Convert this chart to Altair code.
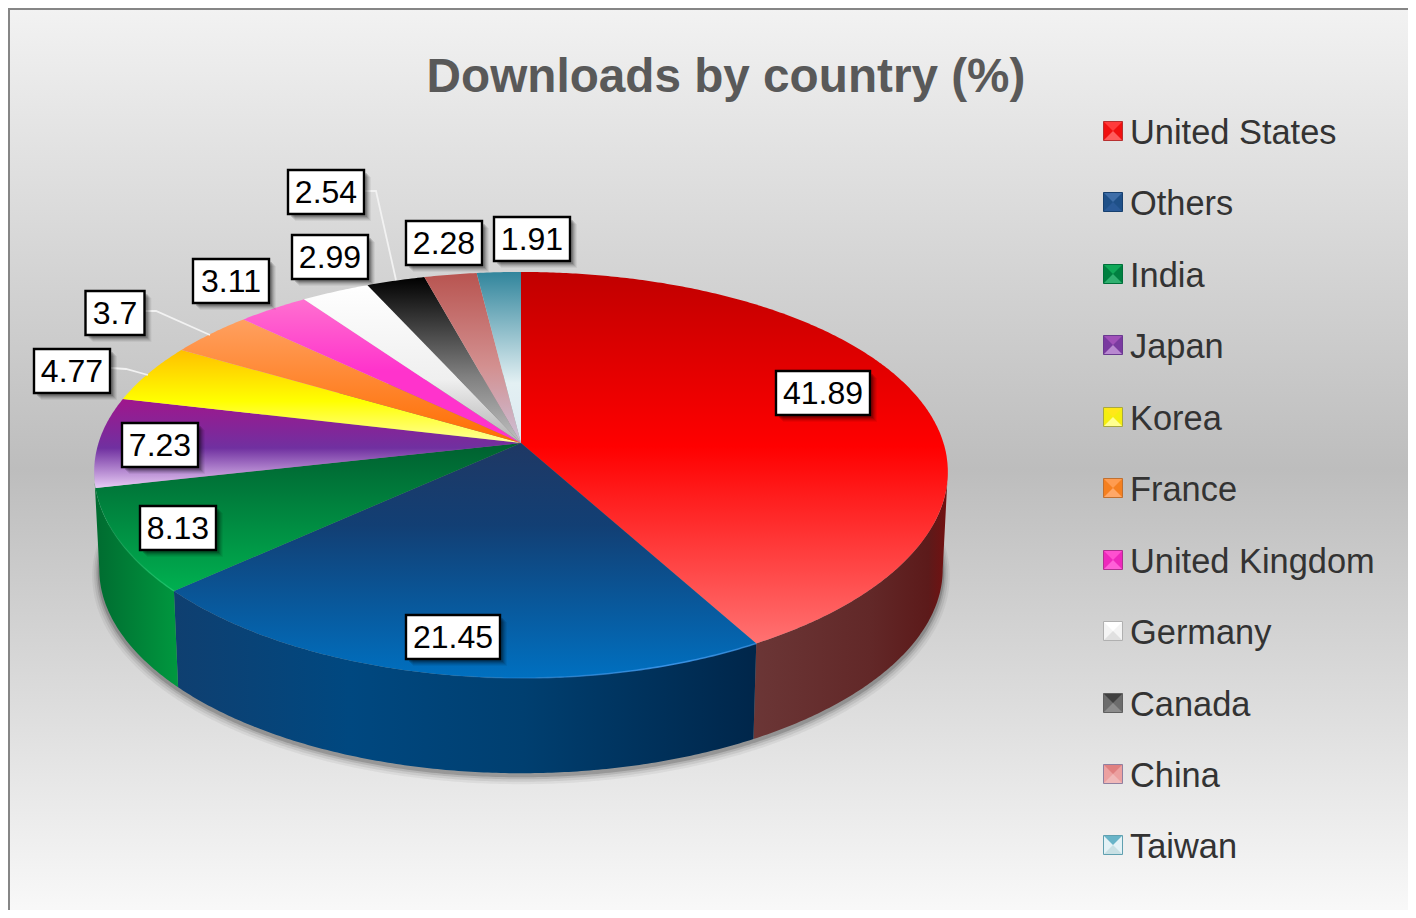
import math
import altair as alt
import pandas as pd

# ---- values --------------------------------------------------------------
countries = ["United States", "Others", "India", "Japan", "Korea", "France",
             "United Kingdom", "Germany", "Canada", "China", "Taiwan"]
shares = [41.89, 21.45, 8.13, 7.23, 4.77, 3.7, 3.11, 2.99, 2.54, 2.28, 1.91]

# ---- styles ---------------------------------------------------------------
face_stops = [
    [("#c00000", 0), ("#ff0000", .47), ("#ff7272", 1)],
    [("#1f3864", 0), ("#123f74", .35), ("#0070c0", 1)],
    [("#006030", 0), ("#00b050", 1)],
    [("#a0168c", 0), ("#7030a0", .55), ("#e8ccf5", 1)],
    [("#ffc000", 0), ("#ffff00", .55), ("#ffff9c", 1)],
    [("#ffa060", 0), ("#ff6d00", 1)],
    [("#ff70d0", 0), ("#ff33cc", .5), ("#ff33cc", 1)],
    [("#ffffff", 0), ("#efefef", .6), ("#b0b0b0", 1)],
    [("#000000", 0), ("#808080", .6), ("#c0c0c0", 1)],
    [("#b85450", 0), ("#d39090", .55), ("#ccc0d9", 1)],
    [("#31859c", 0), ("#e3f0f3", .65), ("#dce8f0", 1)],
]
swatch_stops = [
    ("#ff3c3c", "#f01010", "#ff5c5c", "#b83030"),
    ("#3f6ea8", "#1f5088", "#2a5a98", "#17406f"),
    ("#10a858", "#008040", "#30b070", "#00703a"),
    ("#a050b8", "#7a3aa0", "#b888d0", "#6a3a90"),
    ("#ffe818", "#f4ee10", "#ffff90", "#a8a840"),
    ("#ff9c50", "#f58020", "#ffa868", "#c07030"),
    ("#ff50d0", "#ee28bc", "#ff60d8", "#b03090"),
    ("#ffffff", "#f4f4f4", "#e0e0e0", "#b0b0b0"),
    ("#404040", "#6c6c6c", "#8c8c8c", "#606060"),
    ("#e08080", "#eca0a0", "#f0b8b8", "#9080a0"),
    ("#68b4c8", "#e4f2f6", "#c8e0e4", "#60a0b0"),
]
wall_stops = {
    0: [("#6b3636", 0), ("#622828", .6), ("#5c1a1a", .9), ("#741010", 1)],
    1: [("#0f3f70", 0), ("#004880", .3), ("#003f70", .6), ("#00264a", 1)],
    2: [("#006b30", 0), ("#00983f", 1)],
}

# ---- layout: perspective of the pie and label placement ---------------------
CX, CY, RX, RY = 521, 443, 422.5, 198
TILT_X, TILT_Y = .142, .1576
BOTTOM_CY, BOTTOM_SCALE = 541, .988
label_centres = [(823, 393), (453, 637), (178, 528), (160, 445), (72, 371), (115, 313),
                 (231, 281), (330, 257), (326, 192), (444, 243), (532, 239)]
leaders = [
    [(111, 368), (126, 369), (148, 375)],
    [(145, 311), (156, 311), (210, 335)],
    [(365, 191), (376, 191), (396, 280)],
]
legend_rows = [132, 203, 275, 346, 418, 489, 561, 632, 704, 775, 846]
WIDTH, HEIGHT = 1400, 902

X = alt.Scale(domain=[8, 8 + WIDTH])
Y = alt.Scale(domain=[8 + HEIGHT, 8])


def ex(f="x"):
    return alt.X(f"{f}:Q", scale=X, axis=None)


def ey(f="y"):
    return alt.Y(f"{f}:Q", scale=Y, axis=None)


def project(deg, cy=CY, s=1.0, grow=0.0):
    t = math.radians(deg)
    sx, cs = math.sin(t), math.cos(t)
    return (CX + (RX * s + grow) * sx / (1 + TILT_X * cs),
            cy - (RY * s + grow * .6) * cs / (1 + TILT_Y * cs))


def arc(a0, a1, **kw):
    n = max(2, int(abs(a1 - a0) * 2) + 1)
    return [project(a0 + (a1 - a0) * i / (n - 1), **kw) for i in range(n)]


def grad(stops, horizontal=False):
    return alt.Gradient(
        gradient="linear",
        stops=[alt.GradientStop(color=c, offset=o) for c, o in stops],
        x1=0, x2=1 if horizontal else 0, y1=0, y2=0 if horizontal else 1,
    )


def polygon(points, **mark):
    df = pd.DataFrame(points, columns=["x", "y"])
    df["i"] = range(len(df))
    return alt.Chart(df).mark_line(interpolate="linear-closed", strokeWidth=0, **mark).encode(
        x=ex(), y=ey(), order="i:Q")


def path(points, **mark):
    df = pd.DataFrame(points, columns=["x", "y"])
    df["i"] = range(len(df))
    return alt.Chart(df).mark_line(**mark).encode(x=ex(), y=ey(), order="i:Q")


# cumulative angles, clockwise from 12 o'clock
angles = [0.0]
for v in shares:
    angles.append(angles[-1] + v / sum(shares) * 360)

layers = []

# background panel
bg = pd.DataFrame({"x": [9], "x2": [1440], "y": [9], "y2": [930]})
layers.append(alt.Chart(bg).mark_rect(
    fill=grad([("#f2f2f2", 0), ("#bdbdbd", .5), ("#fbfbfb", 1)]),
    stroke="#868686", strokeWidth=2).encode(
    x=ex(), x2="x2:Q", y=ey(), y2="y2:Q"))

# soft shadow under the disc
for grow, dy, op in [(7, 6, .05), (5, 5, .07), (3, 4, .10), (1.5, 3, .16)]:
    layers.append(polygon(arc(0, 360, cy=BOTTOM_CY + dy, s=BOTTOM_SCALE, grow=grow),
                          fill="#000000", opacity=op))

# side walls
tangent = math.degrees(math.acos(-TILT_X))
spans = {0: (tangent, angles[1]), 1: (angles[1], angles[2]), 2: (angles[2], 360 - tangent)}
for i, (a0, a1) in spans.items():
    pts = arc(a0, a1) + arc(a1, a0, cy=BOTTOM_CY, s=BOTTOM_SCALE)
    layers.append(polygon(pts, fill=grad(wall_stops[i], horizontal=True)))

# top faces
for i in range(len(shares)):
    pts = [(CX, CY)] + arc(angles[i], angles[i + 1])
    layers.append(polygon(pts, fill=grad(face_stops[i])))

# highlight on the front rim
layers.append(path(arc(angles[1], angles[2]), strokeWidth=1.6, stroke=grad(
    [("rgba(60,150,235,0)", 0), ("rgba(60,150,235,0)", .45), ("rgba(60,150,235,.9)", .85),
     ("rgba(60,150,235,.7)", 1)], horizontal=True)))
layers.append(path(arc(angles[2], 260), strokeWidth=1.4, stroke=grad(
    [("rgba(30,200,110,0)", 0), ("rgba(30,200,110,.8)", 1)], horizontal=True)))

# leader lines
for pts in leaders:
    layers.append(path(pts, stroke="#f2f2f2", strokeWidth=1.8))

# data labels
labels = pd.DataFrame(label_centres, columns=["x", "y"])
labels["text"] = [f"{v:g}" for v in shares]
labels["half"] = labels["text"].str.len().map({3: 29.5, 4: 38, 5: 47})
labels["x0"] = labels["x"] - labels["half"]
labels["x1"] = labels["x"] + labels["half"]
labels["y0"] = labels["y"] - 22
labels["y1"] = labels["y"] + 22
for dx, op in [(7, .05), (6, .07), (5, .09), (4, .12), (3, .16)]:
    d = labels.assign(x0=labels.x0 + dx, x1=labels.x1 + dx, y0=labels.y0 + dx, y1=labels.y1 + dx)
    layers.append(alt.Chart(d).mark_rect(fill="#000000", opacity=op).encode(
        x=ex("x0"), x2="x1:Q", y=ey("y0"), y2="y1:Q"))
layers.append(alt.Chart(labels).mark_rect(fill="#ffffff", stroke="#000000", strokeWidth=2.4).encode(
    x=ex("x0"), x2="x1:Q", y=ey("y0"), y2="y1:Q"))
layers.append(alt.Chart(labels).mark_text(
    font="Liberation Sans", fontSize=32, color="#000000", align="center", baseline="middle", dy=1).encode(
    x=ex(), y=ey(), text="text:N"))

# legend: bevelled swatch and name for each slice
SX, HALF = 1113, 9.5
for row, (top, side, bottom, edge) in zip(legend_rows, swatch_stops):
    cy = row - 1
    l, r, t, b = SX - HALF, SX + HALF, cy - HALF, cy + HALF
    layers.append(polygon([(l, t), (r, t), (r, b), (l, b)], fill=side))
    layers.append(polygon([(l, t), (r, t), (SX, cy)], fill=top))
    layers.append(polygon([(l, b), (r, b), (SX, cy)], fill=bottom))
    layers.append(path([(l, t), (r, t), (r, b), (l, b), (l, t)], stroke=edge, strokeWidth=1))

legend = pd.DataFrame({"x": [1130] * len(countries), "y": legend_rows, "name": countries})
layers.append(alt.Chart(legend).mark_text(
    font="Liberation Sans", fontSize=34.4, color="#333333", align="left", baseline="middle", dy=2).encode(
    x=ex(), y=ey(), text="name:N"))

# title
title = pd.DataFrame({"x": [726], "y": [76], "t": ["Downloads by country (%)"]})
layers.append(alt.Chart(title).mark_text(
    font="Liberation Sans", fontSize=47.7, fontWeight="bold", color="#595959",
    align="center", baseline="middle", dy=2).encode(x=ex(), y=ey(), text="t:N"))

chart = alt.layer(*layers).properties(
    width=WIDTH, height=HEIGHT, padding=0,
    autosize=alt.AutoSizeParams(type="none"),
).configure_view(stroke=None)

chart.save("out.html", embed_options={"renderer": "svg", "actions": False})
